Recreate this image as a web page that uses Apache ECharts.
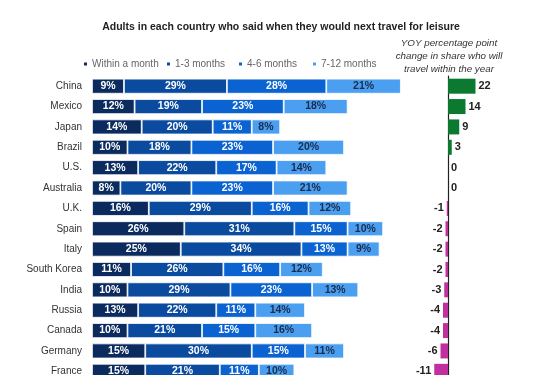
<!DOCTYPE html>
<html>
<head>
<meta charset="utf-8">
<script src="https://cdn.jsdelivr.net/npm/echarts@6/dist/echarts.min.js"></script>
<style>
html,body{margin:0;padding:0;background:#fff;}
#wrap{width:547px;height:375px;overflow:hidden;position:relative;}
#chart{width:547px;height:385px;}
</style>
</head>
<body>
<div id="wrap"><div id="chart"></div></div>
<script>
const countries = ["China","Mexico","Japan","Brazil","U.S.","Australia","U.K.","Spain","Italy","South Korea","India","Russia","Canada","Germany","France"];
const withinMonth = [9,12,14,10,13,8,16,26,25,11,10,13,10,15,15];
const oneToThree = [29,19,20,18,22,20,29,31,34,26,29,22,21,30,21];
const fourToSix = [28,23,11,23,17,23,16,15,13,16,23,11,15,15,11];
const sevenToTwelve = [21,18,8,20,14,21,12,10,9,12,13,14,16,11,10];
const yoyChange = [22,14,9,3,0,0,-1,-2,-2,-2,-3,-4,-4,-6,-11];
const seriesNames = ["Within a month","1-3 months","4-6 months","7-12 months"];

const FONT = "Liberation Sans, Arial, sans-serif";
const colors = ["#0b2b5f","#0a4b9f","#0b63d2","#4b9ff0"];
const labelColors = ["#fff","#fff","#fff","#1b2b4b"];
const stacks = [withinMonth, oneToThree, fourToSix, sevenToTwelve];
const legendLefts = [82, 165, 237, 311];

const chart = echarts.init(document.getElementById('chart'), null, {renderer:'canvas'});

const series = stacks.map((arr,i)=>({
  name: seriesNames[i], type:'bar', stack:'s', xAxisIndex:0, yAxisIndex:0,
  barWidth:15,
  itemStyle:{color:colors[i], borderColor:'#fff', borderWidth:0.8},
  label:{show:true, position:'inside', formatter:'{c}%', color:labelColors[i],
    fontFamily:FONT, fontWeight:'bold', fontSize:10.5},
  data: arr
}));

series.push({
  name:'yoy', type:'bar', xAxisIndex:1, yAxisIndex:1, barWidth:15,
  data: yoyChange.map(v=>({value:v,
    itemStyle:{color: v>0 ? '#0b7a30' : '#c2309f'},
    label:{position: v<0 ? 'left' : 'right'}})),
  label:{show:true, formatter:'{c}', color:'#222', fontFamily:FONT, fontWeight:'bold', fontSize:11, distance:3}
});

chart.setOption({
  animation:false,
  textStyle:{fontFamily:FONT},
  title:{text:'Adults in each country who said when they would next travel for leisure',
    left:276, top:17, textAlign:'center',
    textStyle:{fontFamily:FONT, fontWeight:'bold', fontSize:10.5, color:'#222'}},
  legend: seriesNames.map((n,i)=>({data:[n], left:legendLefts[i], top:59, padding:0, icon:'rect',
    itemWidth:5, itemHeight:5,
    textStyle:{fontFamily:FONT, fontSize:10, color:'#666', padding:[0,0,0,-1]}})),
  graphic:[{type:'text', x:449, y:37,
    style:{text:'YOY percentage point\nchange in share who will\ntravel within the year',
      textAlign:'center', fill:'#333', font:'italic 9.8px '+FONT, lineHeight:12.8}}],
  grid:[
    {left:92, top:76, width:355, height:305.5},
    {left:423, top:76, width:100, height:305.5}
  ],
  xAxis:[
    {gridIndex:0, type:'value', min:0, max:100, show:false},
    {gridIndex:1, type:'value', min:-20, max:60, show:false}
  ],
  yAxis:[
    {gridIndex:0, type:'category', data:countries, inverse:true,
      axisLine:{show:false}, axisTick:{show:false},
      axisLabel:{margin:10, color:'#333', fontFamily:FONT, fontSize:10}},
    {gridIndex:1, type:'category', data:countries, inverse:true,
      axisLine:{show:true, onZero:true, lineStyle:{color:'#222', width:1.2}}, axisTick:{show:false},
      axisLabel:{show:false}}
  ],
  series: series
});
</script>
</body>
</html>
